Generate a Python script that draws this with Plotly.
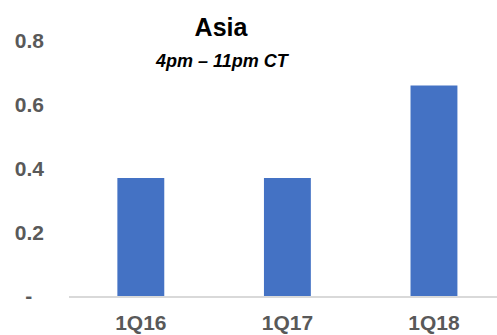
import plotly.graph_objects as go

# Quarterly values for the Asia session
quarters = ["1Q16", "1Q17", "1Q18"]
values = [0.37, 0.37, 0.66]

y_tick_vals = [0, 0.2, 0.4, 0.6, 0.8]
y_tick_text = ["-\u00a0\u00a0", "0.2", "0.4", "0.6", "0.8"]

FONT = "Liberation Sans, Arial, sans-serif"
TICK_COLOR = "#595959"

fig = go.Figure(
    go.Bar(
        x=quarters,
        y=values,
        marker=dict(color="#4472C4", line=dict(width=0)),
        width=0.32,
        hoverinfo="skip",
    )
)

fig.update_layout(
    width=497,
    height=335,
    margin=dict(l=69, r=0, t=20, b=39),
    paper_bgcolor="white",
    plot_bgcolor="white",
    showlegend=False,
    font=dict(family=FONT),
    title=dict(
        text="<b>Asia</b>",
        xref="container",
        yref="container",
        x=221 / 497,
        y=1 - 27 / 335,
        xanchor="center",
        yanchor="middle",
        font=dict(size=25, color="black"),
    ),
    annotations=[
        dict(
            text="<b><i>4pm – 11pm CT</i></b>",
            xref="paper",
            yref="paper",
            x=(222 - 69) / 428,
            y=(296 - 61) / 276,
            xanchor="center",
            yanchor="middle",
            showarrow=False,
            font=dict(size=18, color="black"),
        )
    ],
    xaxis=dict(
        type="category",
        range=[-0.49, 2.43],
        showline=True,
        linecolor="#D9D9D9",
        linewidth=1.5,
        showgrid=False,
        ticks="",
        automargin=False,
        tickfont=dict(size=21, color=TICK_COLOR, family=FONT),
        ticklabelstandoff=7,
        tickvals=quarters,
        ticktext=["<b>%s</b>" % q for q in quarters],
    ),
    yaxis=dict(
        range=[0, 0.865],
        tickvals=y_tick_vals,
        ticktext=["<b>%s</b>" % t for t in y_tick_text],
        showline=False,
        showgrid=False,
        zeroline=False,
        ticks="",
        automargin=False,
        tickfont=dict(size=21, color=TICK_COLOR, family=FONT),
        ticklabelstandoff=24,
    ),
)

fig.write_html("out.html")
